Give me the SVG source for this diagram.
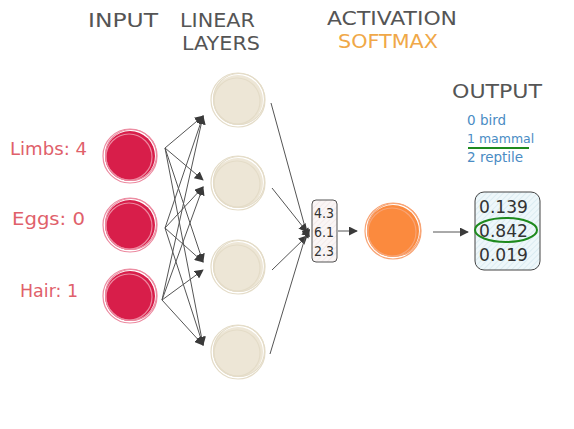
<svg xmlns="http://www.w3.org/2000/svg" width="574" height="429" viewBox="0 0 574 429">
<defs>
<marker id="ah" viewBox="0 0 10 10" refX="9" refY="5" markerWidth="9" markerHeight="9" markerUnits="userSpaceOnUse" orient="auto"><path d="M0,0 L10,5 L0,10 z" fill="#3a3a3a"/></marker>
<pattern id="hatchB" width="4" height="4" patternUnits="userSpaceOnUse" patternTransform="rotate(45)"><rect width="4" height="4" fill="#eef7fa"/><line x1="0" y1="0" x2="0" y2="4" stroke="#c9e1ea" stroke-width="1"/></pattern>
<pattern id="hatchP" width="4" height="4" patternUnits="userSpaceOnUse" patternTransform="rotate(45)"><rect width="4" height="4" fill="#faf6f6"/><line x1="0" y1="0" x2="0" y2="4" stroke="#eddede" stroke-width="1"/></pattern>
</defs>
<style>
.hd{font-family:"DejaVu Sans",sans-serif;font-size:20px;fill:#555;}
.lbl{font-family:"DejaVu Sans",sans-serif;font-size:17px;fill:#e0606a;}
.cls{font-family:"DejaVu Sans",sans-serif;font-size:13.5px;fill:#4a8cc4;}
.num{font-family:"DejaVu Sans",sans-serif;font-size:14px;fill:#333;}
.out{font-family:"DejaVu Sans",sans-serif;font-size:17px;fill:#333;}
.ln{stroke:#555;stroke-width:1;fill:none;marker-end:url(#ah);}
.red .f{fill:#d81e4a;} .red .r{fill:none;stroke:#ec8aa0;stroke-width:1.2;}
.bg .f{fill:#ede6d6;} .bg .r{fill:none;stroke:#e4dcc8;stroke-width:1.2;}
.or .f{fill:#fb8a3e;} .or .r{fill:none;stroke:#f8a474;stroke-width:1.2;}
</style>

<g id="headers">
<text class="hd" x="88" y="27" textLength="70" lengthAdjust="spacingAndGlyphs">INPUT</text>
<text class="hd" x="180" y="27" textLength="75" lengthAdjust="spacingAndGlyphs">LINEAR</text>
<text class="hd" x="182" y="50" textLength="78" lengthAdjust="spacingAndGlyphs">LAYERS</text>
<text class="hd" x="327" y="25" textLength="130" lengthAdjust="spacingAndGlyphs">ACTIVATION</text>
<text class="hd" x="338" y="48" textLength="100" lengthAdjust="spacingAndGlyphs" style="fill:#f0a848">SOFTMAX</text>
<text class="hd" x="452" y="98" textLength="90" lengthAdjust="spacingAndGlyphs">OUTPUT</text>
</g>

<g id="input-limbs" class="red">
<text class="lbl" x="10" y="155" textLength="77" lengthAdjust="spacingAndGlyphs">Limbs: 4</text>
<circle class="f" cx="130" cy="156" r="25"/>
<circle class="r" cx="130" cy="156" r="27"/><circle class="r" cx="131" cy="155" r="25.5"/><circle class="r" cx="129" cy="157" r="23"/>
</g>
<g id="input-eggs" class="red">
<text class="lbl" x="12" y="225" textLength="73" lengthAdjust="spacingAndGlyphs">Eggs: 0</text>
<circle class="f" cx="130" cy="225" r="25"/>
<circle class="r" cx="130" cy="225" r="27"/><circle class="r" cx="131" cy="224" r="25.5"/><circle class="r" cx="129" cy="226" r="23"/>
</g>
<g id="input-hair" class="red">
<text class="lbl" x="20" y="297" textLength="58" lengthAdjust="spacingAndGlyphs">Hair: 1</text>
<circle class="f" cx="130" cy="296" r="25"/>
<circle class="r" cx="130" cy="296" r="27"/><circle class="r" cx="131" cy="295" r="25.5"/><circle class="r" cx="129" cy="297" r="23"/>
</g>

<g id="layer1" class="bg"><circle class="f" cx="238" cy="100" r="25"/><circle class="r" cx="238" cy="100" r="27"/><circle class="r" cx="239" cy="99" r="25.5"/><circle class="r" cx="237" cy="101" r="23"/></g>
<g id="layer2" class="bg"><circle class="f" cx="238" cy="183" r="25"/><circle class="r" cx="238" cy="183" r="27"/><circle class="r" cx="239" cy="182" r="25.5"/><circle class="r" cx="237" cy="184" r="23"/></g>
<g id="layer3" class="bg"><circle class="f" cx="238" cy="267" r="25"/><circle class="r" cx="238" cy="267" r="27"/><circle class="r" cx="239" cy="266" r="25.5"/><circle class="r" cx="237" cy="268" r="23"/></g>
<g id="layer4" class="bg"><circle class="f" cx="238" cy="352" r="25"/><circle class="r" cx="238" cy="352" r="27"/><circle class="r" cx="239" cy="351" r="25.5"/><circle class="r" cx="237" cy="353" r="23"/></g>

<g id="logits">
<rect x="312" y="200" width="25" height="62" rx="4" fill="url(#hatchP)" stroke="#555" stroke-width="1"/>
<text class="num" x="314" y="218" textLength="20" lengthAdjust="spacingAndGlyphs">4.3</text>
<text class="num" x="314" y="237" textLength="20" lengthAdjust="spacingAndGlyphs">6.1</text>
<text class="num" x="314" y="256" textLength="20" lengthAdjust="spacingAndGlyphs">2.3</text>
</g>

<g id="softmax" class="or"><circle class="f" cx="393" cy="231" r="26"/><circle class="r" cx="393" cy="231" r="28"/><circle class="r" cx="394" cy="230" r="26.5"/><circle class="r" cx="392" cy="232" r="24"/></g>

<g id="classes">
<text class="cls" x="467" y="125">0 bird</text>
<text class="cls" x="467" y="143" style="font-size:12.5px">1 mammal</text>
<line x1="468" y1="148" x2="529" y2="148" stroke="#1e8a1e" stroke-width="2"/>
<text class="cls" x="467" y="162">2 reptile</text>
</g>

<g id="output">
<rect x="475" y="192" width="65" height="78" rx="9" fill="url(#hatchB)" stroke="#444" stroke-width="1"/>
<text class="out" x="479" y="213" textLength="49" lengthAdjust="spacingAndGlyphs">0.139</text>
<text class="out" x="479" y="237" textLength="49" lengthAdjust="spacingAndGlyphs">0.842</text>
<text class="out" x="479" y="261" textLength="49" lengthAdjust="spacingAndGlyphs">0.019</text>
<ellipse cx="506" cy="230" rx="31" ry="12" fill="none" stroke="#1e8a1e" stroke-width="2"/>
</g>

<g id="connectors">
<path class="ln" d="M165,148 L203,116"/>
<path class="ln" d="M165,148 L203,180"/>
<path class="ln" d="M165,148 L203,262"/>
<path class="ln" d="M165,148 L203,345"/>
<path class="ln" d="M165,228 L203,116"/>
<path class="ln" d="M165,228 L203,187"/>
<path class="ln" d="M165,228 L203,262"/>
<path class="ln" d="M165,228 L203,345"/>
<path class="ln" d="M162,300 L203,116"/>
<path class="ln" d="M162,300 L203,187"/>
<path class="ln" d="M162,300 L203,270"/>
<path class="ln" d="M162,300 L203,345"/>
<path class="ln" d="M271,103 L308,238"/>
<path class="ln" d="M272,188 L307,232"/>
<path class="ln" d="M272,270 L307,236"/>
<path class="ln" d="M270,354 L308,228"/>
<path class="ln" d="M338,231 L357,231"/>
<path class="ln" d="M433,232 L468,232"/>
</g>
</svg>
